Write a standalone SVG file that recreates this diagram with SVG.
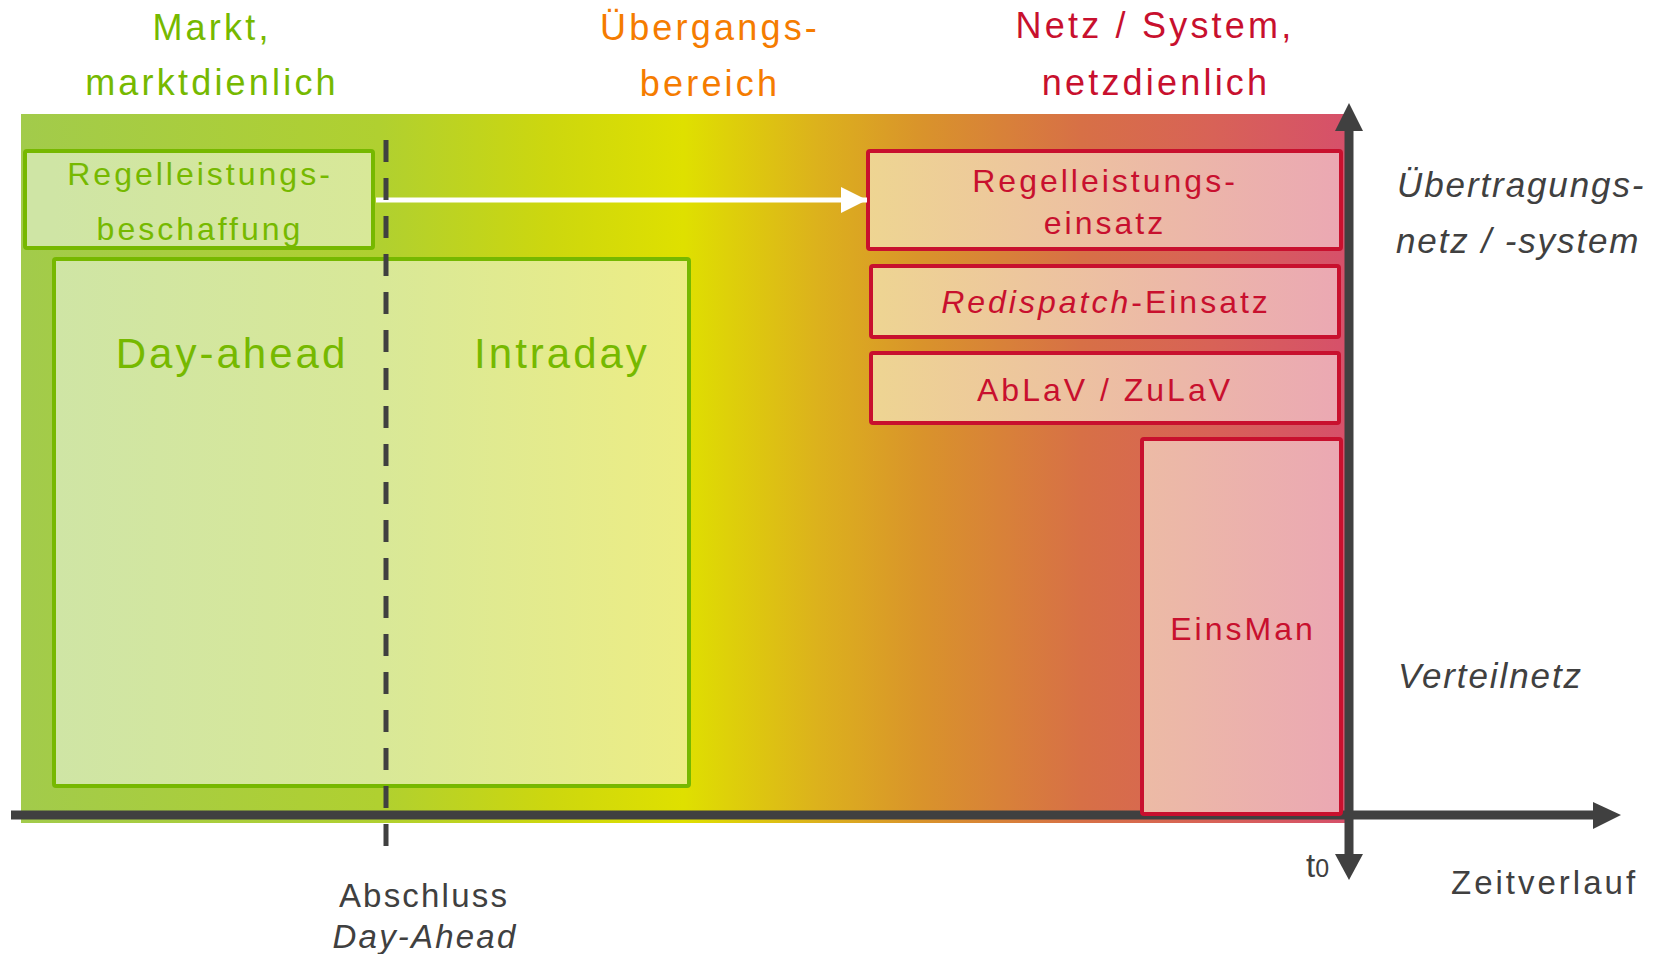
<svg xmlns="http://www.w3.org/2000/svg" width="1664" height="954" viewBox="0 0 1664 954">
<defs>
<linearGradient id="bg" gradientUnits="userSpaceOnUse" x1="21" y1="0" x2="1346" y2="0">
<stop offset="0" stop-color="#a2cb4b"/>
<stop offset="0.27" stop-color="#b0d030"/>
<stop offset="0.4" stop-color="#cdd70e"/>
<stop offset="0.5" stop-color="#dfe000"/>
<stop offset="0.6" stop-color="#dcb21c"/>
<stop offset="0.68" stop-color="#d9932b"/>
<stop offset="0.8" stop-color="#d77046"/>
<stop offset="0.9" stop-color="#d86257"/>
<stop offset="1" stop-color="#d6506a"/>
</linearGradient>
<linearGradient id="gfill" gradientUnits="userSpaceOnUse" x1="54" y1="0" x2="689" y2="0">
<stop offset="0" stop-color="#cfe5a5"/>
<stop offset="0.5" stop-color="#d8e898"/>
<stop offset="1" stop-color="#eded84"/>
</linearGradient>
<linearGradient id="rfill" gradientUnits="userSpaceOnUse" x1="868" y1="0" x2="1341" y2="0">
<stop offset="0" stop-color="#eed592"/>
<stop offset="1" stop-color="#eba8b3"/>
</linearGradient>
<clipPath id="clipRB"><rect x="27" y="153" width="344" height="93"/></clipPath>
<marker id="whiteHead" markerUnits="userSpaceOnUse" markerWidth="26" markerHeight="26" refX="26" refY="13" orient="auto">
<path d="M0,0 L26,13 L0,26 Z" fill="#ffffff"/>
</marker>
</defs>
<style>
.t{font-family:"Liberation Sans",Arial,sans-serif;}
.green{fill:#76b900;}
.red{fill:#c8102e;}
.orange{fill:#f57c00;}
.gray{fill:#404040;}
.gbox{fill:url(#gfill);stroke:#76b800;stroke-width:4;}
.rbox{fill:url(#rfill);stroke:#c8102e;stroke-width:4;}
.axis{stroke:#404040;stroke-width:9;fill:none;}
.head{fill:#404040;}
</style>

<g id="background">
<rect x="21" y="114" width="1325" height="709" fill="url(#bg)"/>
</g>

<g id="titles" class="t">
<text class="green" x="212" y="40" font-size="36" letter-spacing="3.2" text-anchor="middle">Markt,</text>
<text class="green" x="212" y="95" font-size="36" letter-spacing="3.2" text-anchor="middle">marktdienlich</text>
<text class="orange" x="710" y="40" font-size="36" letter-spacing="3.2" text-anchor="middle">Übergangs-</text>
<text class="orange" x="710" y="96" font-size="36" letter-spacing="3.2" text-anchor="middle">bereich</text>
<text class="red" x="1155" y="38" font-size="36" letter-spacing="3.2" text-anchor="middle">Netz / System,</text>
<text class="red" x="1156" y="95" font-size="36" letter-spacing="3.2" text-anchor="middle">netzdienlich</text>
</g>

<g id="node-dayahead-intraday">
<rect class="gbox" x="54" y="259" width="635" height="527" rx="2"/>
<text class="t green" x="232" y="368" font-size="42" letter-spacing="3" text-anchor="middle">Day-ahead</text>
<text class="t green" x="562" y="368" font-size="42" letter-spacing="3" text-anchor="middle">Intraday</text>
</g>

<g id="node-regelleistungsbeschaffung">
<rect class="gbox" x="25" y="151" width="348" height="97" rx="2"/>
<g clip-path="url(#clipRB)">
<text class="t green" x="200" y="185" font-size="32" letter-spacing="3" text-anchor="middle">Regelleistungs-</text>
<text class="t green" x="200" y="240" font-size="32" letter-spacing="3" text-anchor="middle">beschaffung</text>
</g>
</g>

<g id="node-regelleistungseinsatz">
<rect class="rbox" x="868" y="151" width="473" height="98" rx="2"/>
<text class="t red" x="1105" y="192" font-size="32" letter-spacing="3" text-anchor="middle">Regelleistungs-</text>
<text class="t red" x="1105" y="234" font-size="32" letter-spacing="3" text-anchor="middle">einsatz</text>
</g>

<g id="node-redispatch">
<rect class="rbox" x="871" y="266" width="468" height="71" rx="2"/>
<text class="t red" x="1106" y="313" font-size="32" letter-spacing="3" text-anchor="middle"><tspan font-style="italic">Redispatch</tspan>-Einsatz</text>
</g>

<g id="node-ablav">
<rect class="rbox" x="871" y="353" width="468" height="70" rx="2"/>
<text class="t red" x="1105" y="401" font-size="32" letter-spacing="3" text-anchor="middle">AbLaV / ZuLaV</text>
</g>

<g id="connectors">
<line x1="376" y1="200" x2="867" y2="200" stroke="#ffffff" stroke-width="5" marker-end="url(#whiteHead)"/>
<line x1="386" y1="140" x2="386" y2="848" stroke="#404040" stroke-width="5" stroke-dasharray="22 16"/>
<line class="axis" x1="11" y1="815" x2="1596" y2="815"/>
<path class="head" d="M1593,802 L1621,815 L1593,829 Z"/>
<line class="axis" x1="1349" y1="128" x2="1349" y2="857"/>
<path class="head" d="M1335,131 L1349,103 L1363,131 Z"/>
<path class="head" d="M1335,854 L1349,880 L1363,854 Z"/>
</g>

<g id="node-einsman">
<rect class="rbox" x="1142" y="439" width="199" height="375" rx="2"/>
<text class="t red" x="1243" y="640" font-size="32" letter-spacing="3" text-anchor="middle">EinsMan</text>
</g>

<g id="labels" class="t gray">
<text x="1397" y="197" font-size="35" font-style="italic" letter-spacing="1.9">Übertragungs-</text>
<text x="1396" y="253" font-size="35" font-style="italic" letter-spacing="1.9">netz / -system</text>
<text x="1398" y="688" font-size="35" font-style="italic" letter-spacing="1.9">Verteilnetz</text>
<text x="1306" y="877" font-size="33">t<tspan font-size="25">0</tspan></text>
<text x="1451" y="894" font-size="33" letter-spacing="3">Zeitverlauf</text>
<text x="424" y="907" font-size="33" letter-spacing="2.2" text-anchor="middle">Abschluss</text>
<text x="425" y="948" font-size="33" letter-spacing="2.2" font-style="italic" text-anchor="middle">Day-Ahead</text>
</g>
</svg>
